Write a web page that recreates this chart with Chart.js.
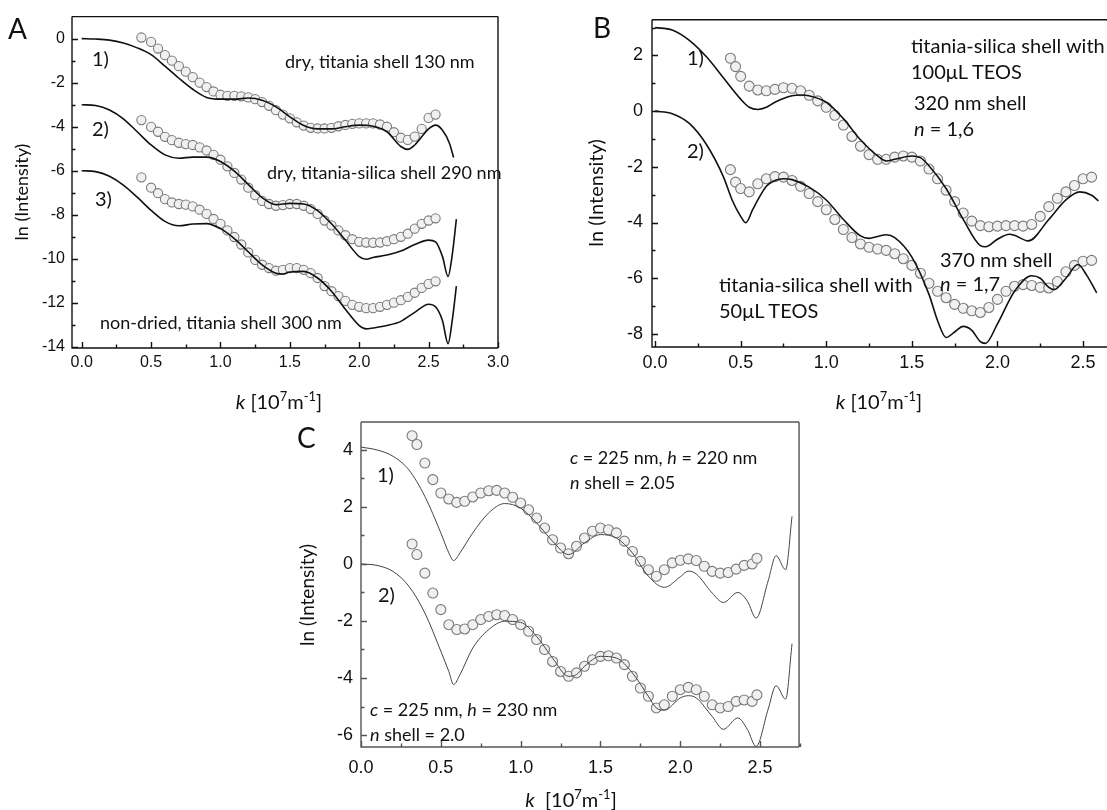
<!DOCTYPE html>
<html>
<head>
<meta charset="utf-8">
<script src="https://cdn.jsdelivr.net/npm/chart.js@4.4.0/dist/chart.umd.min.js"></script>
<style>
body { margin: 0; background: #fff; }
#fig { position: relative; width: 1107px; height: 810px; overflow: hidden; background: #fff; font-family: Lato, sans-serif; color: #111; }
canvas { position: absolute; }
.t { position: absolute; font-size: 18px; line-height: 1; white-space: nowrap; }
.tb { position: absolute; font-size: 20px; line-height: 1; white-space: nowrap; }
.p { position: absolute; font-size: 28px; line-height: 1; }
.xt { position: absolute; font-size: 20px; line-height: 1; white-space: nowrap; transform: translateX(-50%); }
.yt { position: absolute; line-height: 1; white-space: nowrap; transform: translate(-50%, -50%) rotate(-90deg); }
sup { font-size: 13px; vertical-align: 8px; line-height: 0; }
</style>
</head>
<body>
<div id="fig">
  <canvas id="cA" width="560" height="420" style="left:0;top:0"></canvas>
  <canvas id="cB" width="547" height="420" style="left:560px;top:0"></canvas>
  <canvas id="cC" width="530" height="410" style="left:280px;top:400px"></canvas>

  <div class="p" style="left:8px;top:14px">A</div>
  <div class="yt" style="left:21px;top:192px;font-size:18px">ln (Intensity)</div>
  <div class="tb" style="left:92px;top:48px">1)</div>
  <div class="tb" style="left:92px;top:118px">2)</div>
  <div class="tb" style="left:95px;top:188px">3)</div>
  <div class="t" style="left:285px;top:52px">dry, titania shell 130 nm</div>
  <div class="t" style="left:267px;top:163px">dry, titania-silica shell 290 nm</div>
  <div class="t" style="left:100px;top:313px">non-dried, titania shell 300 nm</div>
  <div class="xt" style="left:279px;top:391px"><i>k</i> [10<sup>7</sup>m<sup>-1</sup>]</div>

  <div class="p" style="left:593px;top:13px">B</div>
  <div class="yt" style="left:595px;top:193px;font-size:20px">ln (Intensity)</div>
  <div class="tb" style="left:687px;top:47px">1)</div>
  <div class="tb" style="left:687px;top:140px">2)</div>
  <div class="tb" style="left:911px;top:35px">titania-silica shell with</div>
  <div class="tb" style="left:911px;top:61px">100μL TEOS</div>
  <div class="tb" style="left:914px;top:92px">320 nm shell</div>
  <div class="tb" style="left:914px;top:118px"><i>n</i> = 1,6</div>
  <div class="tb" style="left:940px;top:249px">370 nm shell</div>
  <div class="tb" style="left:940px;top:273px"><i>n</i> = 1,7</div>
  <div class="tb" style="left:719px;top:274px">titania-silica shell with</div>
  <div class="tb" style="left:719px;top:300px">50μL TEOS</div>
  <div class="xt" style="left:879px;top:391px"><i>k</i> [10<sup>7</sup>m<sup>-1</sup>]</div>

  <div class="p" style="left:297px;top:423px">C</div>
  <div class="yt" style="left:306px;top:595px;font-size:19px">ln (Intensity)</div>
  <div class="tb" style="left:377px;top:464px">1)</div>
  <div class="tb" style="left:378px;top:584px">2)</div>
  <div class="t" style="left:570px;top:448px"><i>c</i> = 225 nm, <i>h</i> = 220 nm</div>
  <div class="t" style="left:570px;top:473px"><i>n</i> shell = 2.05</div>
  <div class="t" style="left:370px;top:700px"><i>c</i> = 225 nm, <i>h</i> = 230 nm</div>
  <div class="t" style="left:370px;top:725px"><i>n</i> shell = 2.0</div>
  <div class="xt" style="left:571px;top:789px"><i>k</i>&nbsp; [10<sup>7</sup>m<sup>-1</sup>]</div>
</div>

<script>
// panel A
const aDataK = [0.43,0.50,0.55,0.60,0.65,0.70,0.75,0.80,0.85,0.90,0.95,1.00,1.05,1.10,1.15,1.20,1.25,1.30,1.35,1.40,1.45,1.50,1.55,1.60,1.65,1.70,1.75,1.80,1.85,1.90,1.95,2.00,2.05,2.10,2.15,2.20,2.25,2.30,2.35,2.40,2.45,2.50,2.55];
const aData1 = [0.05,-0.15,-0.45,-0.75,-1.0,-1.25,-1.5,-1.75,-2.0,-2.2,-2.4,-2.55,-2.6,-2.6,-2.62,-2.67,-2.75,-2.88,-3.05,-3.25,-3.45,-3.62,-3.8,-3.95,-4.05,-4.08,-4.08,-4.05,-3.98,-3.92,-3.87,-3.85,-3.85,-3.85,-3.9,-4.0,-4.25,-4.5,-4.6,-4.45,-4.1,-3.6,-3.45];
const aData2 = [-3.7,-4.01,-4.23,-4.46,-4.61,-4.73,-4.79,-4.83,-4.94,-5.08,-5.28,-5.5,-5.8,-6.1,-6.4,-6.77,-7.11,-7.37,-7.51,-7.59,-7.56,-7.51,-7.51,-7.59,-7.74,-7.96,-8.26,-8.48,-8.71,-8.93,-9.11,-9.23,-9.26,-9.27,-9.26,-9.2,-9.11,-9.0,-8.86,-8.63,-8.41,-8.26,-8.16];
const aData3 = [-6.3,-6.77,-7.02,-7.29,-7.44,-7.51,-7.54,-7.62,-7.77,-7.96,-8.19,-8.41,-8.71,-9.01,-9.35,-9.71,-10.05,-10.27,-10.42,-10.54,-10.5,-10.42,-10.42,-10.5,-10.65,-10.87,-11.24,-11.47,-11.69,-11.91,-12.09,-12.18,-12.24,-12.24,-12.18,-12.09,-11.99,-11.88,-11.73,-11.54,-11.32,-11.14,-11.02];
const aFit1K = [0,0.1,0.2,0.3,0.4,0.5,0.6,0.7,0.8,0.9,1.0,1.1,1.2,1.3,1.4,1.5,1.6,1.7,1.8,1.9,2.0,2.1,2.2,2.3,2.35,2.4,2.5,2.55,2.6,2.65,2.68];
const aFit1 = [0,-0.02,-0.07,-0.2,-0.42,-0.73,-1.25,-1.8,-2.3,-2.67,-2.75,-2.75,-2.7,-2.8,-3.1,-3.55,-3.95,-4.1,-4.1,-4.0,-3.93,-3.98,-4.23,-4.9,-5.03,-4.83,-4.1,-3.93,-4.16,-4.75,-5.4];
const aFit2K = [0,0.1,0.2,0.3,0.4,0.5,0.6,0.7,0.8,0.9,1.0,1.1,1.2,1.3,1.4,1.5,1.6,1.7,1.8,1.9,2.0,2.05,2.1,2.2,2.3,2.4,2.5,2.55,2.6,2.64,2.67,2.7];
const aFit2 = [-3,-3.04,-3.24,-3.64,-4.23,-4.83,-5.28,-5.43,-5.38,-5.38,-5.58,-6.02,-6.62,-7.22,-7.54,-7.48,-7.51,-7.81,-8.41,-9.15,-9.9,-10.02,-9.94,-9.83,-9.65,-9.35,-9.15,-9.23,-9.9,-10.8,-9.83,-8.2];
const aFit3K = [0,0.1,0.2,0.3,0.4,0.5,0.6,0.7,0.8,0.9,1.0,1.1,1.2,1.3,1.4,1.45,1.5,1.6,1.7,1.8,1.9,2.0,2.05,2.1,2.2,2.3,2.4,2.5,2.55,2.6,2.64,2.67,2.7];
const aFit3 = [-6,-6.04,-6.25,-6.65,-7.2,-7.8,-8.3,-8.5,-8.42,-8.4,-8.63,-9.08,-9.68,-10.27,-10.65,-10.69,-10.6,-10.57,-10.87,-11.47,-12.29,-13.03,-13.18,-13.14,-13.03,-12.84,-12.43,-12.06,-12.18,-12.81,-13.85,-12.81,-11.24];
const aXMajor = [0,0.5,1,1.5,2,2.5,3];
const aXMinor = [0.25,0.75,1.25,1.75,2.25,2.75];
const aYMajor = [0,-2,-4,-6,-8,-10,-12,-14];
const aYMinor = [-1,-3,-5,-7,-9,-11,-13];

// panel B
const bDataK = [0.44,0.47,0.50,0.55,0.60,0.65,0.70,0.75,0.80,0.85,0.90,0.95,1.00,1.05,1.10,1.15,1.20,1.25,1.30,1.35,1.40,1.45,1.50,1.55,1.60,1.65,1.70,1.75,1.80,1.85,1.90,1.95,2.00,2.05,2.10,2.15,2.20,2.25,2.30,2.35,2.40,2.45,2.50,2.55];
const bData1 = [1.9,1.6,1.25,0.9,0.76,0.73,0.78,0.84,0.82,0.73,0.57,0.37,0.14,-0.15,-0.5,-0.91,-1.26,-1.56,-1.73,-1.73,-1.65,-1.61,-1.65,-1.79,-2.08,-2.43,-2.84,-3.25,-3.66,-3.95,-4.11,-4.15,-4.13,-4.11,-4.11,-4.13,-4.07,-3.78,-3.43,-3.13,-2.9,-2.67,-2.43,-2.37];
const bData2 = [-2.1,-2.55,-2.78,-2.9,-2.61,-2.43,-2.35,-2.37,-2.49,-2.7,-2.96,-3.25,-3.54,-3.89,-4.25,-4.54,-4.77,-4.89,-4.95,-5.0,-5.12,-5.3,-5.54,-5.82,-6.18,-6.47,-6.7,-6.94,-7.08,-7.17,-7.23,-7.05,-6.76,-6.47,-6.29,-6.23,-6.26,-6.33,-6.35,-6.12,-5.77,-5.54,-5.39,-5.36];
const bFit1K = [0,0.1,0.2,0.3,0.4,0.5,0.55,0.6,0.65,0.7,0.8,0.85,0.9,1.0,1.1,1.2,1.3,1.35,1.4,1.5,1.55,1.6,1.7,1.8,1.9,1.93,2.0,2.07,2.1,2.18,2.3,2.4,2.48,2.55,2.59];
const bFit1 = [3,2.91,2.54,1.95,1.19,0.43,0.14,0.06,0.14,0.32,0.55,0.58,0.55,0.32,-0.27,-1.03,-1.61,-1.79,-1.73,-1.61,-1.67,-1.96,-2.78,-3.89,-4.83,-4.87,-4.6,-4.42,-4.46,-4.66,-3.89,-3.19,-2.9,-3.02,-3.22];
const bFit2K = [0,0.1,0.2,0.3,0.4,0.45,0.5,0.53,0.57,0.6,0.65,0.7,0.75,0.8,0.9,1.0,1.1,1.2,1.25,1.3,1.35,1.4,1.5,1.6,1.65,1.7,1.75,1.8,1.85,1.9,1.93,2.0,2.1,2.2,2.25,2.3,2.33,2.4,2.47,2.52,2.58];
const bFit2 = [0,-0.09,-0.44,-1.2,-2.37,-3.19,-3.78,-4.01,-3.54,-3.19,-2.7,-2.49,-2.43,-2.46,-2.73,-3.19,-3.89,-4.48,-4.57,-4.5,-4.44,-4.54,-5.24,-6.58,-7.52,-8.13,-7.93,-7.73,-7.87,-8.28,-8.34,-7.64,-6.47,-5.91,-6.0,-6.33,-6.41,-6.0,-5.51,-5.88,-6.53];
const bXMajor = [0,0.5,1,1.5,2,2.5];
const bXMinor = [0.25,0.75,1.25,1.75,2.25];
const bYMajor = [2,0,-2,-4,-6,-8];
const bYMinor = [3,1,-1,-3,-5,-7];

// panel C
const cDataK = [0.32,0.35,0.40,0.45,0.50,0.55,0.60,0.65,0.70,0.75,0.80,0.85,0.90,0.95,1.00,1.05,1.10,1.15,1.20,1.25,1.30,1.35,1.40,1.45,1.50,1.55,1.60,1.65,1.70,1.75,1.80,1.85,1.90,1.95,2.00,2.05,2.10,2.15,2.20,2.25,2.30,2.35,2.40,2.45,2.48];
const cData1 = [4.5,4.19,3.54,2.96,2.49,2.28,2.16,2.2,2.35,2.49,2.57,2.58,2.49,2.34,2.14,1.9,1.61,1.26,0.85,0.56,0.36,0.62,0.91,1.15,1.26,1.2,1.09,0.8,0.44,0.09,-0.2,-0.43,-0.2,0.04,0.13,0.18,0.12,-0.08,-0.26,-0.32,-0.3,-0.18,-0.05,0.0,0.2];
const cData2 = [0.7,0.33,-0.32,-1.02,-1.6,-2.13,-2.3,-2.28,-2.13,-1.95,-1.84,-1.78,-1.81,-1.95,-2.13,-2.36,-2.65,-3.0,-3.42,-3.77,-3.94,-3.82,-3.59,-3.36,-3.24,-3.22,-3.3,-3.53,-3.94,-4.35,-4.64,-5.05,-4.94,-4.64,-4.41,-4.33,-4.41,-4.64,-4.94,-5.05,-5.0,-4.82,-4.77,-4.82,-4.59];
const cFit1K = [0,0.1,0.2,0.3,0.4,0.5,0.55,0.58,0.62,0.7,0.8,0.9,1.0,1.1,1.2,1.3,1.4,1.5,1.6,1.7,1.8,1.9,2.0,2.05,2.1,2.2,2.27,2.36,2.42,2.475,2.55,2.6,2.66,2.7];
const cFit1 = [4.1,4.0,3.78,3.3,2.37,1.09,0.39,0.12,0.39,1.09,1.79,2.12,1.96,1.44,0.8,0.33,0.74,1.03,0.91,0.39,-0.43,-0.82,-0.45,-0.25,-0.35,-1.02,-1.35,-1.0,-1.3,-1.9,-0.6,0.29,-0.2,1.67];
const cFit2K = [0,0.1,0.2,0.3,0.4,0.5,0.55,0.58,0.62,0.7,0.8,0.9,1.0,1.1,1.2,1.3,1.35,1.4,1.5,1.6,1.7,1.8,1.85,1.9,2.0,2.05,2.1,2.2,2.27,2.36,2.42,2.475,2.55,2.6,2.66,2.7];
const cFit2 = [0,-0.05,-0.26,-0.78,-1.72,-3.06,-3.77,-4.23,-3.88,-2.95,-2.3,-2.01,-2.05,-2.54,-3.3,-3.94,-3.88,-3.59,-3.24,-3.3,-3.82,-4.64,-5.05,-5.13,-4.7,-4.62,-4.7,-5.35,-5.8,-5.4,-5.8,-6.4,-5.1,-4.27,-4.74,-2.8];
const cXMajor = [0,0.5,1,1.5,2,2.5];
const cXMinor = [0.25,0.75,1.25,1.75,2.25,2.75];
const cYMajor = [4,2,0,-2,-4,-6];
const cYMinor = [3,1,-1,-3,-5];

function pts(ks, vs) {
    return ks.map((k, i) => ({ x: k, y: vs[i] }));
}

function tickList(major, minor) {
    return major.map(v => ({ value: v, major: true }))
        .concat(minor.map(v => ({ value: v, major: false })))
        .sort((a, b) => a.value - b.value);
}

// axis frame + inward ticks
const frame = {
    id: 'frame',
    afterDatasetsDraw(chart, args, opts) {
        const ctx = chart.ctx;
        const a = chart.chartArea;
        const sx = chart.scales.x, sy = chart.scales.y;
        ctx.save();
        ctx.strokeStyle = opts.color;
        ctx.lineWidth = opts.width;
        ctx.beginPath();
        ctx.moveTo(a.left, a.top);
        ctx.lineTo(a.right, a.top);
        ctx.moveTo(a.left, a.top);
        ctx.lineTo(a.left, a.bottom);
        ctx.lineTo(a.right, a.bottom);
        if (opts.right) {
            ctx.moveTo(a.right, a.top);
            ctx.lineTo(a.right, a.bottom);
        }
        sx.ticks.forEach(t => {
            const px = Math.round(sx.getPixelForValue(t.value)) + 0.5;
            ctx.moveTo(px, a.bottom);
            ctx.lineTo(px, a.bottom - (t.major ? 6 : 3.5));
        });
        sy.ticks.forEach(t => {
            const py = Math.round(sy.getPixelForValue(t.value)) + 0.5;
            ctx.moveTo(a.left, py);
            ctx.lineTo(a.left + (t.major ? 6 : 3.5), py);
        });
        ctx.stroke();
        ctx.restore();
    }
};

function panel(id, o) {
    const datasets = [];
    o.fits.forEach(f => datasets.push({
        data: pts(f[0], f[1]),
        showLine: true,
        pointRadius: 0,
        borderColor: o.lineColor,
        borderWidth: o.lineWidth,
        cubicInterpolationMode: 'monotone',
        order: 0
    }));
    o.circles.forEach(c => datasets.push({
        data: pts(c[0], c[1]),
        showLine: false,
        pointStyle: 'circle',
        pointRadius: o.dot,
        pointBorderWidth: 1.1,
        pointBorderColor: '#7a7a7a',
        pointBackgroundColor: '#f0f0f0',
        order: 1
    }));

    const tickFont = { family: '"Liberation Sans", Arial, sans-serif', size: o.tickSize };
    new Chart(document.getElementById(id), {
        type: 'scatter',
        data: { datasets: datasets },
        options: {
            responsive: false,
            animation: false,
            devicePixelRatio: 1,
            layout: { autoPadding: false, padding: o.pad },
            plugins: { legend: { display: false }, tooltip: { enabled: false }, frame: o.frame },
            scales: {
                x: {
                    type: 'linear',
                    min: o.x[0], max: o.x[1],
                    grid: { display: false, drawTicks: false },
                    border: { display: false },
                    afterBuildTicks: s => { s.ticks = tickList(o.xMajor, o.xMinor); },
                    afterFit: s => { s.height = 30; },
                    ticks: {
                        autoSkip: false, maxRotation: 0, padding: o.xPad, color: '#111', font: tickFont,
                        callback: (v, i, t) => t[i].major ? v.toFixed(1) : ''
                    }
                },
                y: {
                    type: 'linear',
                    min: o.y[0], max: o.y[1],
                    grid: { display: false, drawTicks: false },
                    border: { display: false },
                    afterBuildTicks: s => { s.ticks = tickList(o.yMajor, o.yMinor); },
                    afterFit: s => { s.width = o.yWidth; },
                    ticks: {
                        autoSkip: false, padding: o.yPad, color: '#111', font: tickFont,
                        callback: (v, i, t) => t[i].major ? String(v) : ''
                    }
                }
            }
        },
        plugins: [frame]
    });
}

panel('cA', {
    fits: [[aFit1K, aFit1], [aFit2K, aFit2], [aFit3K, aFit3]],
    circles: [[aDataK, aData1], [aDataK, aData2], [aDataK, aData3]],
    lineColor: '#111', lineWidth: 1.6, dot: 4.6,
    x: [-0.07, 3.0], y: [-14.05, 1.0],
    xMajor: aXMajor, xMinor: aXMinor, yMajor: aYMajor, yMinor: aYMinor,
    pad: { left: 0, right: 62, top: 12, bottom: 42 },
    yWidth: 72, xPad: 5, yPad: 7, tickSize: 16,
    frame: { color: '#111', width: 1.4, right: true }
});

panel('cB', {
    fits: [[bFit1K, bFit1], [bFit2K, bFit2]],
    circles: [[bDataK, bData1], [bDataK, bData2]],
    lineColor: '#111', lineWidth: 1.6, dot: 5,
    x: [-0.018, 2.64], y: [-8.47, 3.28],
    xMajor: bXMajor, xMinor: bXMinor, yMajor: bYMajor, yMinor: bYMinor,
    pad: { left: 0, right: 0, top: 12, bottom: 43 },
    yWidth: 92, xPad: 5, yPad: 9, tickSize: 18,
    frame: { color: '#111', width: 1.4, right: false }
});

panel('cC', {
    fits: [[cFit1K, cFit1], [cFit2K, cFit2]],
    circles: [[cDataK, cData1], [cDataK, cData2]],
    lineColor: '#444', lineWidth: 1, dot: 5,
    x: [0, 2.744], y: [-6.42, 4.98],
    xMajor: cXMajor, xMinor: cXMinor, yMajor: cYMajor, yMinor: cYMinor,
    pad: { left: 0, right: 9, top: 22, bottom: 33 },
    yWidth: 81, xPad: 10, yPad: 8, tickSize: 18,
    frame: { color: '#555', width: 1.4, right: true }
});
</script>
</body>
</html>
